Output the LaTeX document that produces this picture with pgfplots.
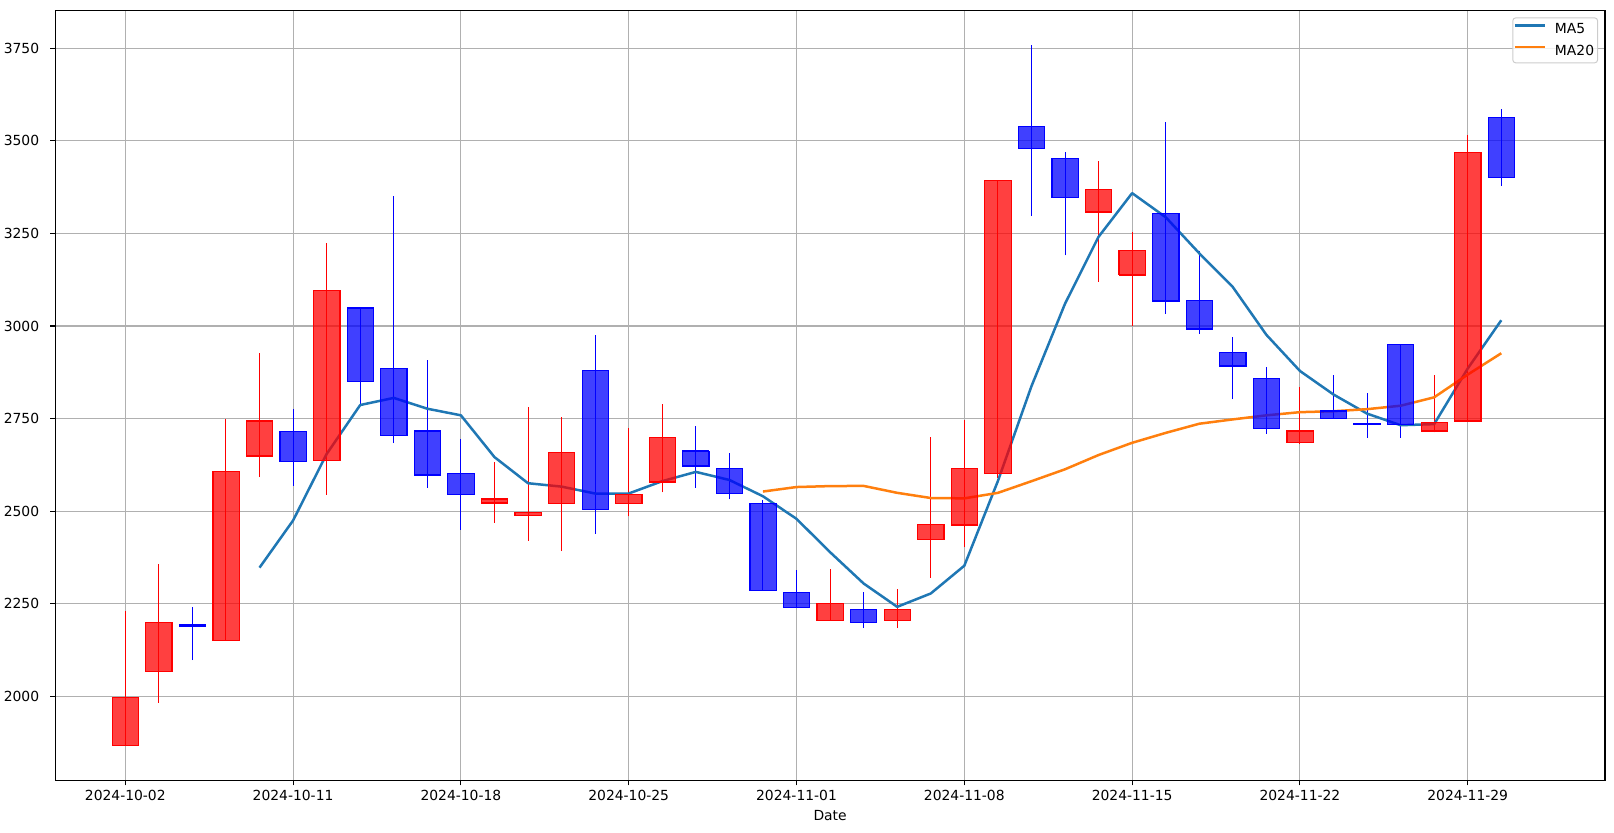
\documentclass[border=0pt]{standalone}
\usepackage{pgfplots}
\pgfplotsset{compat=1.18}
\usepackage{pgfplotstable}
\usepackage{fontspec}
\setmainfont{DejaVu Sans}
\definecolor{ma5c}{HTML}{1F77B4}
\definecolor{ma20c}{HTML}{FF7F0E}
\definecolor{gridc}{HTML}{B0B0B0}
\definecolor{legc}{HTML}{CCCCCC}
\pgfdeclareplotmark{nothing}{}

% up candles (close > open), drawn red
\pgfplotstableread{
i o h l c
0 1867 2230 1867 1997
1 2068 2358 1983 2199
3 2150 2750 2150 2608
4 2649 2928 2592 2744
6 2638 3224 2544 3097
11 2522 2634 2469 2533
12 2488 2780 2420 2497
13 2520 2753 2392 2658
15 2520 2724 2486 2545
16 2579 2788 2551 2700
21 2204 2345 2204 2250
23 2204 2289 2184 2234
24 2423 2700 2320 2465
25 2463 2745 2402 2615
26 2603 3393 2590 3393
29 3308 3445 3120 3369
30 3138 3253 3000 3205
35 2685 2834 2681 2717
39 2717 2869 2713 2739
40 2744 3515 2744 3468
}\redtab

% down candles (close < open), drawn blue
\pgfplotstableread{
i o h l c
2 2193 2240 2098 2189
5 2715 2775 2568 2634
7 3049 3052 2788 2850
8 2886 3352 2684 2704
9 2717 2908 2563 2598
10 2603 2694 2450 2545
14 2880 2975 2439 2505
17 2663 2729 2563 2622
18 2615 2658 2532 2549
19 2521 2529 2285 2285
20 2281 2340 2240 2240
22 2234 2281 2184 2199
27 3538 3758 3297 3479
28 3452 3469 3191 3348
31 3304 3550 3033 3068
32 3069 3203 2979 2992
33 2928 2970 2802 2892
34 2858 2888 2709 2724
36 2771 2869 2750 2750
37 2736 2818 2698 2734
38 2950 2950 2698 2735
41 3563 3585 3378 3402
}\bluetab

\pgfplotstableread{
i v
4 2347.4
5 2474.8
6 2654.4
7 2786.6
8 2805.8
9 2776.6
10 2758.8
11 2646.0
12 2575.4
13 2566.2
14 2547.6
15 2547.6
16 2581.0
17 2606.0
18 2584.2
19 2540.2
20 2479.2
21 2389.2
22 2304.6
23 2241.6
24 2277.6
25 2352.6
26 2581.2
27 2837.2
28 3060.0
29 3240.8
30 3358.8
31 3293.8
32 3196.4
33 3105.2
34 2976.2
35 2878.6
36 2815.0
37 2763.4
38 2732.0
39 2735.0
40 2885.2
41 3015.6
}\mafive

\pgfplotstableread{
i v
19 2552.95
20 2565.10
21 2567.65
22 2568.15
23 2549.45
24 2535.50
25 2534.55
26 2549.35
27 2580.80
28 2613.00
29 2651.55
30 2684.55
31 2711.30
32 2736.05
33 2747.75
34 2758.70
35 2767.30
36 2769.80
37 2775.40
38 2784.70
39 2807.40
40 2868.80
41 2926.40
}\matwenty

\pgfplotsset{
  candlebody/.style={forget plot, only marks, mark=nothing, scatter,
    visualization depends on={abs(\thisrow{c}-\thisrow{o})*0.13331 \as \hh},
    scatter/@pre marker code/.code={%
      \fill[#1, fill opacity=0.75] (-9.45pt,-\hh pt) rectangle (9.45pt,\hh pt);
      \draw[#1, line width=0.72pt] (-9.45pt,-\hh pt) rectangle (9.45pt,\hh pt);},
    scatter/@post marker code/.code={}},
  candlewick/.style={forget plot, #1, line width=0.72pt,
    quiver={u=0, v=\thisrow{h}-\thisrow{l}}},
}

\begin{document}
\begin{tikzpicture}
\useasboundingbox (-39.8pt,-37.8pt) rectangle (1122.28pt,561.96pt);
\begin{axis}[
  at={(0,0)}, anchor=south west,
  scale only axis, width=1115.8pt, height=554.4pt,
  xmin=-2.086, xmax=44.09, ymin=1772.6, ymax=3852,
  axis line style={line width=0.8pt, black},
  tick pos=left, tick align=outside, major tick length=3.5pt,
  every tick/.style={black, line width=0.8pt},
  grid=major, major grid style={gridc, line width=0.8pt},
  xtick={0,5,10,15,20,25,30,35,40},
  xticklabels={2024-10-02,2024-10-11,2024-10-18,2024-10-25,2024-11-01,2024-11-08,2024-11-15,2024-11-22,2024-11-29},
  ytick={2000,2250,2500,2750,3000,3250,3500,3750},
  /pgf/number format/assume math mode=true,
  /pgf/number format/1000 sep={},
  xticklabel style={anchor=north, inner sep=0pt, yshift=-3.6pt, font=\fontsize{10}{12}\selectfont},
  yticklabel style={anchor=east, inner sep=0pt, xshift=-7.9pt, font=\fontsize{10}{12}\selectfont},
  xlabel={Date},
  xlabel style={at={(axis description cs:0.5,0)}, anchor=north, inner sep=0pt, yshift=-21.2pt, font=\fontsize{10}{12}\selectfont},
  legend style={at={(1,1)}, anchor=north east, xshift=-5pt, yshift=-5pt,
    draw=legc, line width=0.7pt, rounded corners=2pt, fill=white, fill opacity=0.8, text opacity=1,
    inner xsep=0.5pt, inner ysep=1.9pt, column sep=4pt, row sep=2.8pt,
    nodes={inner sep=2pt, text depth=0.15em},
    font=\fontsize{10}{12}\selectfont},
  legend cell align=left,
  legend image code/.code={\draw[#1] (0pt,0.3em) -- (22pt,0.3em);},
]
\addplot[candlebody=red] table[x=i, y expr=(\thisrow{o}+\thisrow{c})/2] {\redtab};
\addplot[candlebody=blue] table[x=i, y expr=(\thisrow{o}+\thisrow{c})/2] {\bluetab};
\addplot[candlewick=red] table[x=i, y=l] {\redtab};
\addplot[candlewick=blue] table[x=i, y=l] {\bluetab};
\addplot[ma5c, line width=1.8pt, line join=round] table[x=i, y=v] {\mafive};
\addlegendentry{MA5}
\addplot[ma20c, line width=1.8pt, line join=round] table[x=i, y=v] {\matwenty};
\addlegendentry{MA20}
\end{axis}
\end{tikzpicture}
\end{document}
